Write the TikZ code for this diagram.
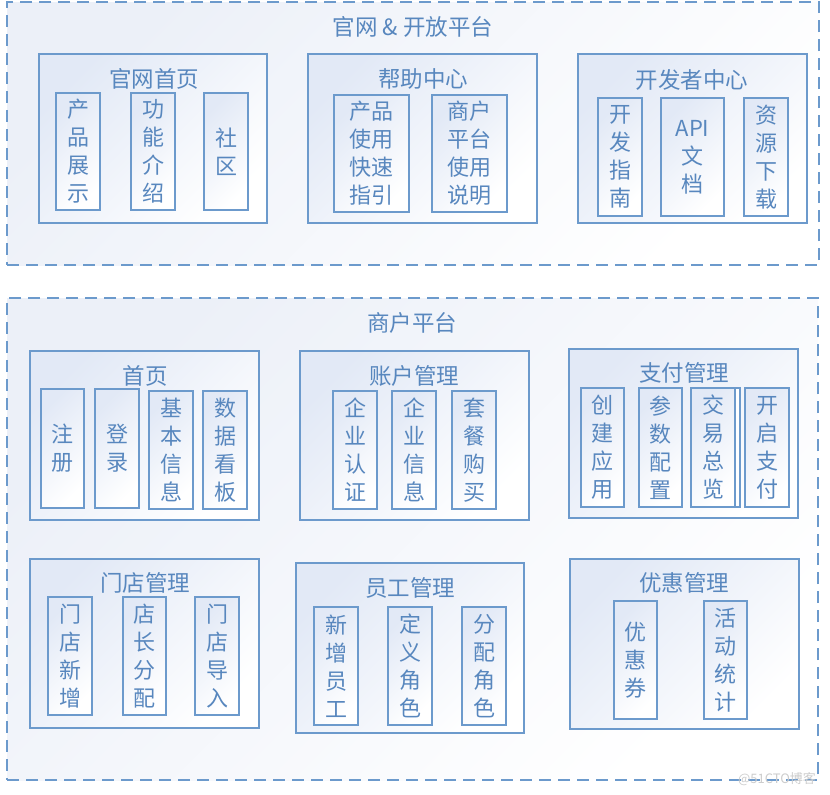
\documentclass[tikz,border=0pt]{standalone}
\usepackage{fontspec}
\setmainfont{Noto Sans CJK SC}
\usetikzlibrary{fit}
\definecolor{bd}{RGB}{108,154,204}
\definecolor{tx}{RGB}{88,135,190}
\definecolor{sh}{RGB}{226,233,246}
\definecolor{shout}{RGB}{236,240,248}
\definecolor{wm}{RGB}{205,205,205}
\tikzset{
  base/.style={inner sep=0pt, outer sep=0pt, draw=bd},
  outerbox/.style={base, line width=2pt, dash pattern=on 12pt off 7pt, top color=shout, bottom color=white, shading angle=45},
  groupbox/.style={base, line width=2pt, top color=sh, bottom color=white, shading angle=45},
  subbox/.style={base, line width=1.8pt, top color=sh, bottom color=white, shading angle=45},
  backbox/.style={base, line width=1.8pt, fill=white},
  subtext/.style={text=tx, align=center, inner sep=0pt, anchor=center, font=\fontsize{22}{28}\selectfont},
  titletext/.style={text=tx, font=\fontsize{22.5}{27}\selectfont, inner sep=0pt},
}
\begin{document}
\begin{tikzpicture}[x=1pt,y=-1pt]
\useasboundingbox[fill=white] (0,0) rectangle (830,795);
% ---- top platform ----
\node[outerbox, fit={(7,2) (819,265)}] (top) {};
\node[titletext] (toptitle) at (413,27) {官网 \& 开放平台};

\node[groupbox, fit={(39,54) (267,223)}] (A) {};
\node[titletext] (At) at (154,79) {官网首页};
\node[subbox, fit={(56,93) (100,210)}] (A1) {};
\node[subtext] (A1t) at (A1.center) {产\\品\\展\\示};
\node[subbox, fit={(131,93) (175,210)}] (A2) {};
\node[subtext] (A2t) at (A2.center) {功\\能\\介\\绍};
\node[subbox, fit={(204,93) (248,210)}] (A3) {};
\node[subtext] (A3t) at (A3.center) {社\\区};

\node[groupbox, fit={(308,54) (537,223)}] (B) {};
\node[titletext] (Bt) at (423,79) {帮助中心};
\node[subbox, fit={(334,95) (409,212)}] (B1) {};
\node[subtext] (B1t) at (B1.center) {产品\\使用\\快速\\指引};
\node[subbox, fit={(432,95) (507,212)}] (B2) {};
\node[subtext] (B2t) at (B2.center) {商户\\平台\\使用\\说明};

\node[groupbox, fit={(578,54) (807,223)}] (C) {};
\node[titletext] (Ct) at (692,80) {开发者中心};
\node[subbox, fit={(598,98) (642,216)}] (C1) {};
\node[subtext] (C1t) at (C1.center) {开\\发\\指\\南};
\node[subbox, fit={(661,98) (724,216)}] (C2) {};
\node[subtext] (C2t) at (C2.center) {API\\文\\档};
\node[subbox, fit={(744,98) (788,216)}] (C3) {};
\node[subtext] (C3t) at (C3.center) {资\\源\\下\\载};

% ---- merchant platform ----
\node[outerbox, fit={(7,298) (818,780)}] (bot) {};
\node[titletext] (bottitle) at (412,323) {商户平台};

\node[groupbox, fit={(30,351) (259,520)}] (D) {};
\node[titletext] (Dt) at (145,376) {首页};
\node[subbox, fit={(41,389) (84,508)}] (D1) {};
\node[subtext] (D1t) at (D1.center) {注\\册};
\node[subbox, fit={(95,389) (139,508)}] (D2) {};
\node[subtext] (D2t) at (D2.center) {登\\录};
\node[subbox, fit={(149,391) (193,509)}] (D3) {};
\node[subtext] (D3t) at (D3.center) {基\\本\\信\\息};
\node[subbox, fit={(203,391) (247,509)}] (D4) {};
\node[subtext] (D4t) at (D4.center) {数\\据\\看\\板};

\node[groupbox, fit={(300,351) (529,520)}] (E) {};
\node[titletext] (Et) at (414,376) {账户管理};
\node[subbox, fit={(333,391) (377,509)}] (E1) {};
\node[subtext] (E1t) at (E1.center) {企\\业\\认\\证};
\node[subbox, fit={(392,391) (436,509)}] (E2) {};
\node[subtext] (E2t) at (E2.center) {企\\业\\信\\息};
\node[subbox, fit={(452,391) (496,509)}] (E3) {};
\node[subtext] (E3t) at (E3.center) {套\\餐\\购\\买};

\node[groupbox, fit={(569,349) (798,518)}] (F) {};
\node[titletext] (Ft) at (684,373) {支付管理};
\node[subbox, fit={(581,388) (624,507)}] (F1) {};
\node[subtext] (F1t) at (F1.center) {创\\建\\应\\用};
\node[subbox, fit={(639,388) (682,507)}] (F2) {};
\node[subtext] (F2t) at (F2.center) {参\\数\\配\\置};
\node[backbox, fit={(696,388) (740,507)}] (F3b) {};
\node[subbox, fit={(691,388) (735,507)}] (F3) {};
\node[subtext] (F3t) at (F3.center) {交\\易\\总\\览};
\node[subbox, fit={(745,388) (789,507)}] (F4) {};
\node[subtext] (F4t) at (F4.center) {开\\启\\支\\付};

\node[groupbox, fit={(30,559) (259,728)}] (G) {};
\node[titletext] (Gt) at (145,583) {门店管理};
\node[subbox, fit={(48,597) (92,715)}] (G1) {};
\node[subtext] (G1t) at (G1.center) {门\\店\\新\\增};
\node[subbox, fit={(123,597) (166,715)}] (G2) {};
\node[subtext] (G2t) at (G2.center) {店\\长\\分\\配};
\node[subbox, fit={(195,597) (239,715)}] (G3) {};
\node[subtext] (G3t) at (G3.center) {门\\店\\导\\入};

\node[groupbox, fit={(296,563) (524,733)}] (H) {};
\node[titletext] (Ht) at (410,588) {员工管理};
\node[subbox, fit={(314,607) (358,725)}] (H1) {};
\node[subtext] (H1t) at (H1.center) {新\\增\\员\\工};
\node[subbox, fit={(388,607) (432,725)}] (H2) {};
\node[subtext] (H2t) at (H2.center) {定\\义\\角\\色};
\node[subbox, fit={(462,607) (506,725)}] (H3) {};
\node[subtext] (H3t) at (H3.center) {分\\配\\角\\色};

\node[groupbox, fit={(570,559) (799,729)}] (I) {};
\node[titletext] (It) at (684,583) {优惠管理};
\node[subbox, fit={(614,601) (657,719)}] (I1) {};
\node[subtext] (I1t) at (I1.center) {优\\惠\\券};
\node[subbox, fit={(704,601) (747,719)}] (I2) {};
\node[subtext] (I2t) at (I2.center) {活\\动\\统\\计};

\node[text=wm, font=\fontsize{13}{15}\selectfont, inner sep=0pt] (wmark) at (777,779) {@51CTO博客};
\end{tikzpicture}
\end{document}
